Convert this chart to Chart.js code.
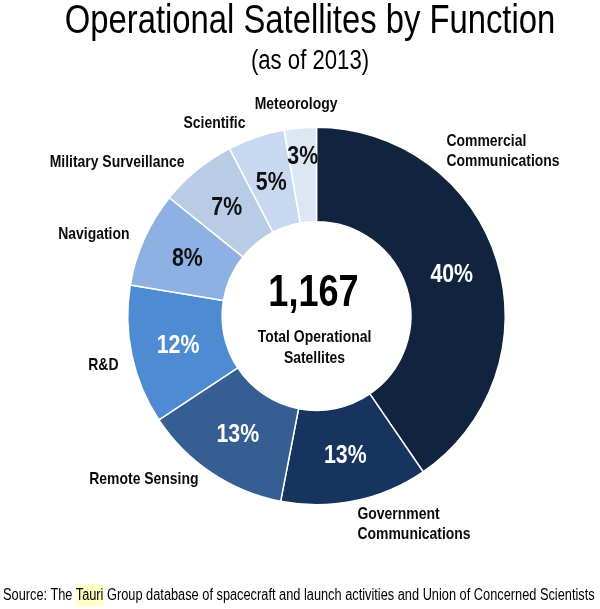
<!DOCTYPE html>
<html>
<head>
<meta charset="utf-8">
<script src="https://cdn.jsdelivr.net/npm/chart.js@4.4.0/dist/chart.umd.min.js"></script>
<style>
  html, body { margin: 0; padding: 0; background: #fff; }
  body { width: 600px; height: 609px; position: relative; overflow: hidden;
         font-family: 'Liberation Sans', Arial, sans-serif; }
  #wrap { position: absolute; left: 0; top: 0; width: 600px; height: 609px; }
  /* Arial Narrow look: Arial metrics squeezed horizontally */
  .title { position: absolute; left: 0; width: 620px; text-align: center; color: #000;
           white-space: nowrap; transform: scaleX(0.82); transform-origin: 310px 0; }
  #t1 { top: 0; font-size: 40px; line-height: 39px; }
  #t2 { top: 47px; font-size: 27px; line-height: 27px; }
  #src { position: absolute; left: 3px; top: 587px; font-size: 15.6px; line-height: 16px;
         white-space: nowrap; color: #000; transform: scaleX(0.82); transform-origin: 0 0; }
  #src .hl { background: #ffffc6; padding: 2px 0 3px 0; }
</style>
</head>
<body>
<div id="wrap"><canvas id="satChart" width="600" height="609"></canvas></div>
<div class="title" id="t1">Operational Satellites by Function</div>
<div class="title" id="t2">(as of 2013)</div>
<div id="src">Source: The <span class="hl">Tauri</span> Group database of spacecraft and launch activities and Union of Concerned Scientists</div>
<script>
'use strict';

// categories, clockwise from 12 o'clock
var functionLabels = [
  ['Commercial', 'Communications'],
  ['Government', 'Communications'],
  ['Remote Sensing'],
  ['R&D'],
  ['Navigation'],
  ['Military Surveillance'],
  ['Scientific'],
  ['Meteorology']
];

// satellite counts
var satelliteCounts = [472, 147, 148, 139, 95, 77, 57, 32];

var sliceColors = [
  '#10233f', '#17345e', '#355f92', '#4f8bd3',
  '#8db1e2', '#b8cce5', '#c6d9f1', '#dde6f3'
];

// percent label colour per slice
var pctColors = ['#fff', '#fff', '#fff', '#fff', '#111', '#111', '#111', '#111'];
// push the thin meteorology label out towards the rim
var pctPush = [0, 0, 0, 0, 0, 0, 0, 19];

// where each category name sits, relative to the doughnut centre
var nameSpots = [
  { dx: 130, dy: -175, align: 'left' },
  { dx: 41, dy: 198, align: 'left' },
  { dx: -118, dy: 163, align: 'right' },
  { dx: -198, dy: 49, align: 'right' },
  { dx: -187, dy: -82, align: 'right' },
  { dx: -132, dy: -154, align: 'right' },
  { dx: -71, dy: -193, align: 'right' },
  { dx: 21, dy: -212, align: 'right' }
];

var FONT = "'Liberation Sans', Arial, sans-serif";
var NARROW = 0.82;

// draw text squeezed horizontally around its anchor
function narrowText(ctx, text, x, y) {
  ctx.save();
  ctx.translate(x, y);
  ctx.scale(NARROW, 1);
  ctx.fillText(text, 0, 0);
  ctx.restore();
}

var doughnutLabels = {
  id: 'doughnutLabels',
  afterDatasetsDraw: function (chart) {
    var ctx = chart.ctx;
    var meta = chart.getDatasetMeta(0);
    var data = chart.data.datasets[0].data;
    var total = data.reduce(function (a, b) { return a + b; }, 0);
    var cx = meta.data[0].x, cy = meta.data[0].y;

    ctx.save();
    ctx.textAlign = 'center';
    ctx.textBaseline = 'middle';

    // percentages inside the slices
    ctx.font = 'bold 26px ' + FONT;
    meta.data.forEach(function (arc, i) {
      var p = arc.tooltipPosition();
      var mid = (arc.startAngle + arc.endAngle) / 2;
      ctx.fillStyle = pctColors[i];
      narrowText(ctx, Math.round(data[i] / total * 100) + '%',
        p.x + Math.cos(mid) * pctPush[i], p.y + Math.sin(mid) * pctPush[i] + 1);
    });

    // category names around the ring
    ctx.font = 'bold 17px ' + FONT;
    ctx.fillStyle = '#0a0a0a';
    functionLabels.forEach(function (lines, i) {
      var s = nameSpots[i];
      ctx.textAlign = s.align;
      lines.forEach(function (line, j) {
        narrowText(ctx, line, cx + s.dx, cy + s.dy + j * 20);
      });
    });

    // total in the hole
    ctx.textAlign = 'center';
    ctx.fillStyle = '#000';
    ctx.font = 'bold 44px ' + FONT;
    narrowText(ctx, total.toLocaleString('en-US'), cx - 3, cy - 22);
    ctx.font = 'bold 17px ' + FONT;
    ctx.fillStyle = '#0a0a0a';
    narrowText(ctx, 'Total Operational', cx - 2, cy + 21);
    narrowText(ctx, 'Satellites', cx - 2, cy + 42);
    ctx.restore();
  }
};

var satChart = new Chart(document.getElementById('satChart').getContext('2d'), {
  type: 'doughnut',
  data: {
    labels: functionLabels.map(function (l) { return l.join(' '); }),
    datasets: [{
      data: satelliteCounts,
      backgroundColor: sliceColors,
      borderColor: '#ffffff',
      borderWidth: 1.5,
      hoverOffset: 0
    }]
  },
  options: {
    responsive: false,
    animation: false,
    cutout: '50%',
    layout: { padding: { left: 127, right: 94, top: 126, bottom: 103 } },
    plugins: {
      legend: { display: false },
      tooltip: { enabled: false }
    }
  },
  plugins: [doughnutLabels]
});
</script>
</body>
</html>
